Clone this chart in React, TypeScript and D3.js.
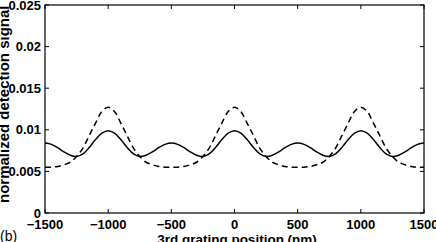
import React, { useEffect, useRef } from 'react';
import * as d3 from 'd3';

// 3rd grating position (nm), 50 nm steps
const positions = [
  -1500, -1450, -1400, -1350, -1300, -1250, -1200, -1150, -1100, -1050,
  -1000, -950, -900, -850, -800, -750, -700, -650, -600, -550,
  -500, -450, -400, -350, -300, -250, -200, -150, -100, -50,
  0, 50, 100, 150, 200, 250, 300, 350, 400, 450,
  500, 550, 600, 650, 700, 750, 800, 850, 900, 950,
  1000, 1050, 1100, 1150, 1200, 1250, 1300, 1350, 1400, 1450, 1500,
];

// solid curve
const solidSignal = [
  0.0084, 0.00825, 0.00785, 0.00735, 0.00695, 0.0068, 0.0071, 0.00787, 0.00883, 0.0096,
  0.0099, 0.0096, 0.00883, 0.00787, 0.0071, 0.0068, 0.00695, 0.00735, 0.00785, 0.00825,
  0.0084, 0.00825, 0.00785, 0.00735, 0.00695, 0.0068, 0.0071, 0.00787, 0.00883, 0.0096,
  0.0099, 0.0096, 0.00883, 0.00787, 0.0071, 0.0068, 0.00695, 0.00735, 0.00785, 0.00825,
  0.0084, 0.00825, 0.00785, 0.00735, 0.00695, 0.0068, 0.0071, 0.00787, 0.00883, 0.0096,
  0.0099, 0.0096, 0.00883, 0.00787, 0.0071, 0.0068, 0.00695, 0.00735, 0.00785, 0.00825, 0.0084,
];

// dashed curve
const dashedSignal = [
  0.0055, 0.0055, 0.0056, 0.0058, 0.0061, 0.0068, 0.0078, 0.0093, 0.0108, 0.0122,
  0.0127, 0.0122, 0.0108, 0.0093, 0.0078, 0.0068, 0.0061, 0.0058, 0.0056, 0.0055,
  0.0055, 0.0055, 0.0056, 0.0058, 0.0061, 0.0068, 0.0078, 0.0093, 0.0108, 0.0122,
  0.0127, 0.0122, 0.0108, 0.0093, 0.0078, 0.0068, 0.0061, 0.0058, 0.0056, 0.0055,
  0.0055, 0.0055, 0.0056, 0.0058, 0.0061, 0.0068, 0.0078, 0.0093, 0.0108, 0.0122,
  0.0127, 0.0122, 0.0108, 0.0093, 0.0078, 0.0068, 0.0061, 0.0058, 0.0056, 0.0055, 0.0055,
];

const xTicks = [-1500, -1000, -500, 0, 500, 1000, 1500];
const yTicks = [0, 0.005, 0.01, 0.015, 0.02, 0.025];
const yTickLabels = ['0', '0.005', '0.01', '0.015', '0.02', '0.025'];

const App: React.FC = () => {
  const svgRef = useRef<SVGSVGElement>(null);

  useEffect(() => {
    const svg = d3.select(svgRef.current);
    svg.selectAll('*').remove();

    const W = 436;
    const H = 242;
    const left = 45, right = 424, top = 5, bottom = 213;
    const font = 'Liberation Sans, Arial, Helvetica, sans-serif';

    svg.attr('width', W).attr('height', H);

    const x = d3.scaleLinear().domain([-1500, 1500]).range([left, right]);
    const y = d3.scaleLinear().domain([0, 0.025]).range([bottom, top]);

    const tickLen = 4;

    // box
    svg.append('rect')
      .attr('x', left).attr('y', top)
      .attr('width', right - left).attr('height', bottom - top)
      .attr('fill', 'none').attr('stroke', '#000').attr('stroke-width', 1.2);

    // inward ticks on all sides
    const ticks = svg.append('g').attr('stroke', '#000').attr('stroke-width', 1);
    xTicks.forEach(t => {
      ticks.append('line').attr('x1', x(t)).attr('x2', x(t)).attr('y1', bottom).attr('y2', bottom - tickLen);
      ticks.append('line').attr('x1', x(t)).attr('x2', x(t)).attr('y1', top).attr('y2', top + tickLen);
    });
    yTicks.forEach(t => {
      ticks.append('line').attr('x1', left).attr('x2', left + tickLen).attr('y1', y(t)).attr('y2', y(t));
      ticks.append('line').attr('x1', right).attr('x2', right - tickLen).attr('y1', y(t)).attr('y2', y(t));
    });

    // tick labels
    svg.append('g').selectAll('text')
      .data(xTicks)
      .enter()
      .append('text')
      .attr('x', d => x(d))
      .attr('y', 229)
      .attr('text-anchor', 'middle')
      .style('font-family', font)
      .style('font-weight', 'bold')
      .style('font-size', '13px')
      .text(d => (d < 0 ? '\u2212' + Math.abs(d) : String(d)));

    svg.append('g').selectAll('text')
      .data(yTicks)
      .enter()
      .append('text')
      .attr('x', 41)
      .attr('y', d => y(d) + 4.5)
      .attr('text-anchor', 'end')
      .style('font-family', font)
      .style('font-weight', 'bold')
      .style('font-size', '13px')
      .text((d, i) => yTickLabels[i]);

    // curves
    const line = d3.line<number>()
      .x((d, i) => x(positions[i]))
      .y(d => y(d))
      .curve(d3.curveCatmullRom);

    svg.append('path')
      .datum(solidSignal)
      .attr('d', line)
      .attr('fill', 'none')
      .attr('stroke', '#000')
      .attr('stroke-width', 1.5);

    svg.append('path')
      .datum(dashedSignal)
      .attr('d', line)
      .attr('fill', 'none')
      .attr('stroke', '#000')
      .attr('stroke-width', 1.5)
      .attr('stroke-dasharray', '6,4');

    // axis labels
    svg.append('text')
      .attr('x', 237)
      .attr('y', 244)
      .attr('text-anchor', 'middle')
      .style('font-family', font)
      .style('font-weight', 'bold')
      .style('font-size', '13.5px')
      .text('3rd grating position (nm)');

    svg.append('text')
      .attr('transform', 'rotate(-90)')
      .attr('x', -203)
      .attr('y', 8.5)
      .attr('text-anchor', 'start')
      .style('font-family', font)
      .style('font-weight', 'bold')
      .style('font-size', '15px')
      .text('normalized detection signal');

    svg.append('text')
      .attr('x', 0)
      .attr('y', 241)
      .style('font-family', font)
      .style('font-size', '14px')
      .text('(b)');
  }, []);

  return (
    <div style={{ position: 'absolute', left: 0, top: 0 }}>
      <svg ref={svgRef} style={{ display: 'block', background: '#fff' }}></svg>
    </div>
  );
};

export default App;
